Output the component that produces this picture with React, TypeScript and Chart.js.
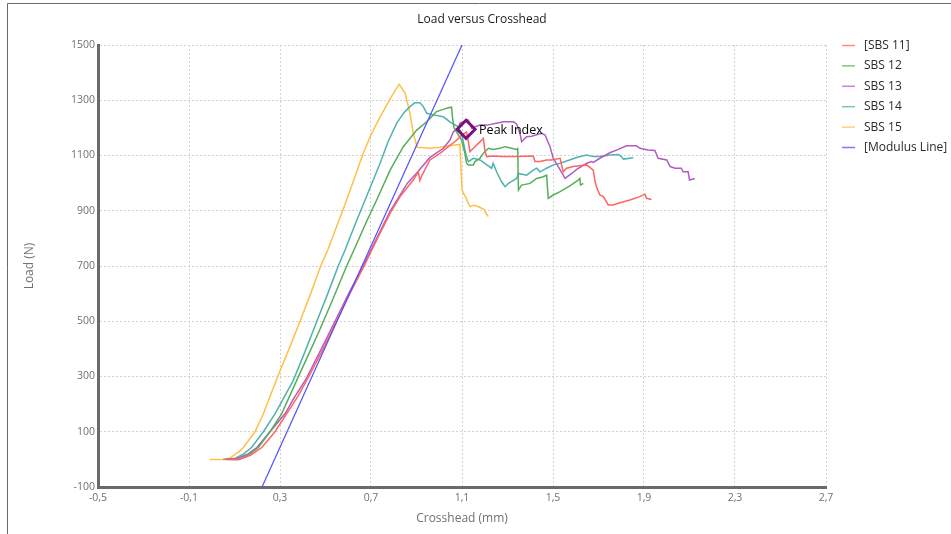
import React, { useEffect, useRef } from "react";
import { Chart, registerables } from "chart.js";
Chart.register(...registerables);

const chartTitle = "Load versus Crosshead";
const xTitle = "Crosshead (mm)";
const yTitle = "Load (N)";
const peakLabel = "Peak Index";

const xTicks = [-0.5, -0.1, 0.3, 0.7, 1.1, 1.5, 1.9, 2.3, 2.7];
const yTicks = [-100, 100, 300, 500, 700, 900, 1100, 1300, 1500];

const seriesNames = ["[SBS 11]", "SBS 12", "SBS 13", "SBS 14", "SBS 15", "[Modulus Line]"];
const seriesColors = ["#ff6464", "#58ae58", "#b25cc2", "#4fb2af", "#ffc04a", "#4f4fff"];

const sbs11 = [[0.06,0],[0.12,0],[0.17,15],[0.22,43],[0.278,100],[0.329,165],[0.38,230],[0.427,300],[0.49,400],[0.548,500],[0.607,600],[0.67,700],[0.728,800],[0.79,900],[0.828,951],[0.86,985],[0.886,1011],[0.908,1041],[0.915,1010],[0.925,1030],[0.959,1084],[1.003,1108],[1.04,1132],[1.076,1155],[1.1,1175],[1.12,1185],[1.128,1150],[1.135,1114],[1.15,1126],[1.172,1144],[1.187,1156],[1.194,1162],[1.201,1114],[1.209,1096],[1.237,1098],[1.282,1096],[1.34,1096],[1.413,1098],[1.421,1078],[1.443,1078],[1.472,1084],[1.494,1084],[1.531,1090],[1.545,1041],[1.56,1054],[1.589,1060],[1.648,1066],[1.677,1047],[1.685,1005],[1.692,985],[1.706,957],[1.721,951],[1.743,921],[1.765,921],[1.787,927],[1.838,939],[1.882,951],[1.904,960],[1.911,945],[1.933,941]];

const sbs12 = [[0.07,0],[0.12,0],[0.168,20],[0.205,43],[0.256,100],[0.307,165],[0.373,285],[0.42,370],[0.47,460],[0.53,575],[0.593,700],[0.625,758],[0.68,860],[0.725,939],[0.784,1047],[0.842,1132],[0.901,1192],[0.945,1222],[0.974,1247],[0.988,1259],[1.018,1267],[1.04,1273],[1.054,1275],[1.058,1240],[1.065,1200],[1.08,1180],[1.098,1156],[1.106,1130],[1.113,1108],[1.12,1072],[1.128,1066],[1.15,1066],[1.157,1078],[1.179,1090],[1.194,1108],[1.216,1126],[1.237,1122],[1.267,1126],[1.289,1132],[1.318,1126],[1.34,1122],[1.345,1125],[1.348,975],[1.362,993],[1.399,999],[1.428,1017],[1.457,1023],[1.472,1029],[1.479,945],[1.501,957],[1.531,969],[1.574,990],[1.611,1011],[1.618,1017],[1.621,993],[1.633,999]];

const sbs13 = [[0.06,0],[0.11,3],[0.16,20],[0.198,43],[0.256,100],[0.322,165],[0.36,220],[0.41,285],[0.42,300],[0.482,400],[0.542,500],[0.602,600],[0.665,700],[0.725,800],[0.785,900],[0.86,1000],[0.905,1040],[0.959,1093],[1.018,1126],[1.047,1156],[1.062,1186],[1.084,1198],[1.091,1217],[1.106,1222],[1.118,1230],[1.128,1228],[1.143,1198],[1.157,1204],[1.179,1210],[1.209,1210],[1.252,1217],[1.282,1222],[1.326,1222],[1.34,1214],[1.355,1180],[1.362,1150],[1.384,1168],[1.406,1170],[1.45,1180],[1.465,1174],[1.487,1132],[1.501,1090],[1.523,1060],[1.545,1029],[1.553,1017],[1.582,1035],[1.604,1050],[1.648,1072],[1.67,1078],[1.677,1075],[1.706,1090],[1.75,1110],[1.787,1122],[1.823,1135],[1.867,1135],[1.882,1126],[1.918,1120],[1.948,1118],[1.962,1090],[2.0,1084],[2.015,1060],[2.037,1054],[2.064,1054],[2.072,1041],[2.094,1041],[2.1,1011],[2.123,1017]];

const sbs14 = [[0.05,0],[0.1,3],[0.14,20],[0.175,43],[0.227,100],[0.278,165],[0.358,285],[0.41,390],[0.462,500],[0.51,600],[0.556,700],[0.586,758],[0.63,850],[0.674,939],[0.74,1072],[0.775,1150],[0.813,1217],[0.845,1255],[0.871,1277],[0.893,1291],[0.915,1291],[0.93,1277],[0.945,1253],[0.974,1247],[1.018,1240],[1.047,1222],[1.084,1204],[1.098,1180],[1.113,1120],[1.12,1096],[1.128,1078],[1.15,1090],[1.179,1084],[1.209,1066],[1.23,1054],[1.237,1072],[1.252,1041],[1.274,1005],[1.289,987],[1.304,999],[1.34,1017],[1.348,1035],[1.384,1029],[1.413,1047],[1.428,1054],[1.443,1041],[1.472,1054],[1.501,1066],[1.531,1072],[1.56,1080],[1.604,1093],[1.648,1102],[1.677,1096],[1.706,1096],[1.75,1102],[1.787,1104],[1.801,1096],[1.809,1087],[1.853,1092]];

const sbs15 = [[-0.01,0],[0.05,0],[0.08,5],[0.12,28],[0.139,43],[0.19,100],[0.227,165],[0.29,300],[0.34,400],[0.388,500],[0.435,600],[0.479,700],[0.51,758],[0.593,939],[0.63,1025],[0.666,1108],[0.7,1175],[0.74,1240],[0.79,1313],[0.81,1340],[0.824,1358],[0.835,1345],[0.85,1325],[0.871,1253],[0.886,1180],[0.903,1130],[0.959,1126],[1.003,1130],[1.04,1135],[1.069,1138],[1.091,1140],[1.095,1060],[1.1,975],[1.115,950],[1.135,915],[1.15,920],[1.165,917],[1.186,909],[1.2,903],[1.205,890],[1.216,879]];

const modulusLine = [[0.221,-100],[1.1,1500]];

const peakPoint = [[1.118,1195]];

const FONT = '"Open Sans", "Noto Sans", sans-serif';

export default function App() {
  const ref = useRef<HTMLCanvasElement>(null);

  useEffect(() => {
    document.body.style.margin = "0";
    const canvas = ref.current;
    if (!canvas) return;
    const toPts = (a: number[][]) => a.map(([x, y]) => ({ x, y }));
    const series = [sbs11, sbs12, sbs13, sbs14, sbs15, modulusLine];
    const datasets: any[] = series.map((d, i) => ({
      label: seriesNames[i],
      data: toPts(d),
      borderColor: seriesColors[i],
      backgroundColor: seriesColors[i],
      borderWidth: i === 5 ? 1.2 : 1.5,
      pointRadius: 0,
      pointHoverRadius: 0,
      showLine: true,
      tension: 0,
      order: i === 5 ? -1 : i,
    }));
    datasets.push({
      label: peakLabel,
      data: toPts(peakPoint),
      showLine: false,
      pointStyle: "rectRot",
      pointRadius: 9,
      borderColor: "#7b0f7b",
      borderWidth: 3,
      backgroundColor: "rgba(255,255,255,0)",
      order: -2,
    });

    const decorPlugin = {
      id: "decor",
      beforeDraw(chart: any) {
        const ctx = chart.ctx;
        ctx.save();
        ctx.fillStyle = "#ffffff";
        ctx.fillRect(0, 0, chart.width, chart.height);
        ctx.strokeStyle = "#6a6a6a";
        ctx.lineWidth = 1;
        ctx.beginPath();
        ctx.moveTo(7.5, chart.height);
        ctx.lineTo(7.5, 3.5);
        ctx.lineTo(chart.width, 3.5);
        ctx.stroke();
        ctx.restore();
      },
      afterDraw(chart: any) {
        const ctx = chart.ctx;
        ctx.save();
        ctx.font = `12px ${FONT}`;
        ctx.fillStyle = "#1a1a1a";
        ctx.textAlign = "center";
        ctx.textBaseline = "middle";
        ctx.fillText(chartTitle, 482, 20);
        ctx.textAlign = "left";
        ctx.font = `12px ${FONT}`;
        for (let i = 0; i < seriesNames.length; i++) {
          const y = 45.5 + i * 20.4;
          ctx.strokeStyle = seriesColors[i];
          ctx.globalAlpha = 0.75;
          ctx.lineWidth = 1.5;
          ctx.beginPath();
          ctx.moveTo(842, y);
          ctx.lineTo(855, y);
          ctx.stroke();
          ctx.globalAlpha = 1;
          ctx.fillStyle = "#2a2a2a";
          ctx.fillText(seriesNames[i], 864, y);
        }
        const meta = chart.getDatasetMeta(chart.data.datasets.length - 1);
        const pt = meta.data[0];
        if (pt) {
          ctx.font = `12.5px ${FONT}`;
          ctx.fillStyle = "#000000";
          ctx.textAlign = "left";
          ctx.fillText(peakLabel, pt.x + 13, pt.y + 1);
        }
        ctx.restore();
      },
    };

    const chart = new Chart(canvas, {
      type: "scatter",
      data: { datasets },
      plugins: [decorPlugin],
      options: {
        animation: false,
        responsive: false,
        devicePixelRatio: 1,
        layout: { padding: { left: 18, right: 125, top: 45, bottom: 0 } },
        plugins: {
          legend: { display: false },
          title: { display: false },
          tooltip: { enabled: false },
        },
        scales: {
          x: {
            type: "linear",
            min: -0.5,
            max: 2.7,
            afterBuildTicks: (scale: any) => {
              scale.ticks = xTicks.map((v) => ({ value: v }));
            },
            afterFit: (scale: any) => {
              scale.height = 47;
            },
            ticks: {
              color: "#707070",
              font: { family: FONT, size: 10.5 },
              padding: 5,
              maxRotation: 0,
              autoSkip: false,
              callback: (v: any) => Number(v).toFixed(1).replace(".", ","),
            },
            grid: { color: "#d2d2d2", lineWidth: 1, drawTicks: false },
            border: { display: true, color: "#6a6a6a", width: 3, dash: [2, 2] },
            title: {
              display: true,
              text: xTitle,
              color: "#707070",
              font: { family: FONT, size: 12 },
              padding: { top: 0, bottom: 8 },
            },
          },
          y: {
            type: "linear",
            min: -100,
            max: 1500,
            afterBuildTicks: (scale: any) => {
              scale.ticks = yTicks.map((v) => ({ value: v }));
            },
            afterFit: (scale: any) => {
              scale.width = 80;
            },
            ticks: {
              color: "#707070",
              font: { family: FONT, size: 10.5 },
              padding: 3,
              autoSkip: false,
              callback: (v: any) => String(v),
            },
            grid: { color: "#d2d2d2", lineWidth: 1, drawTicks: false },
            border: { display: true, color: "#6a6a6a", width: 3, dash: [2, 2] },
            title: {
              display: true,
              text: yTitle,
              color: "#707070",
              font: { family: FONT, size: 12 },
              padding: { top: 4, bottom: 0 },
            },
          },
        },
      } as any,
    });
    return () => chart.destroy();
  }, []);

  return (
    <div style={{ width: 951, height: 534, position: "relative" }}>
      <canvas ref={ref} width={951} height={534} style={{ display: "block" }} />
    </div>
  );
}
